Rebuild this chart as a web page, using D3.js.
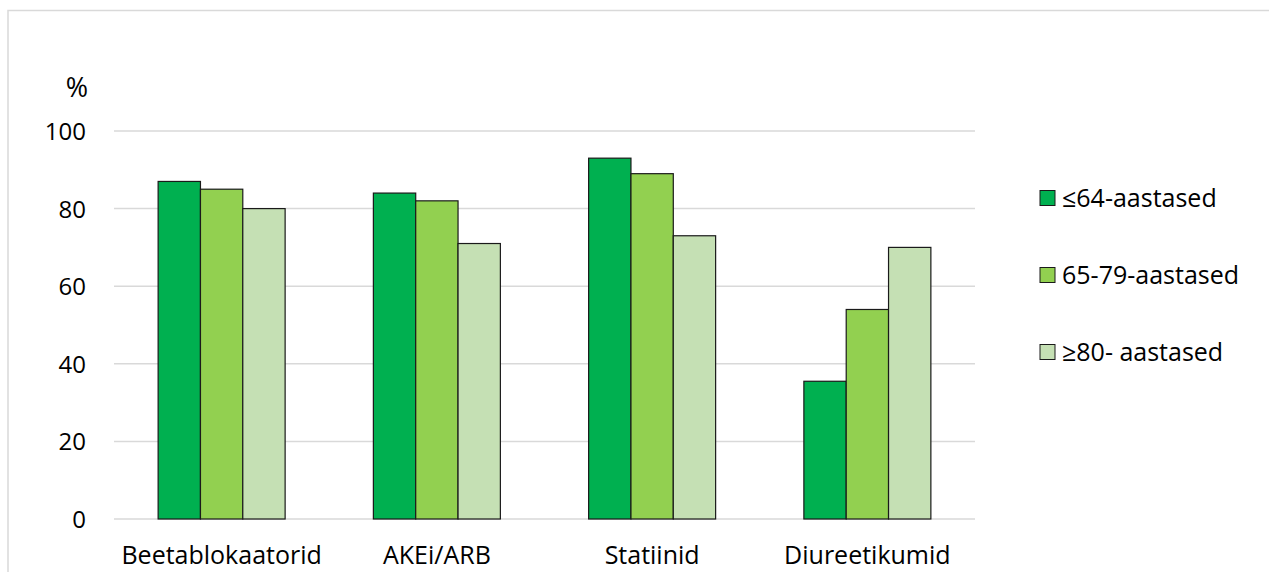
<!DOCTYPE html>
<html><head><meta charset="utf-8">
<script src="https://cdn.jsdelivr.net/npm/d3@7"></script>
<style>body{margin:0;background:#fff;} svg{display:block;} text{font-family:"Open Sans",sans-serif;fill:#000;}</style>
</head><body>
<svg id="c" width="1269" height="572"></svg>
<script>
const categories = ["Beetablokaatorid", "AKEi/ARB", "Statiinid", "Diureetikumid"];
const seriesNames = ["≤64-aastased", "65-79-aastased", "≥80- aastased"];
const s1 = [87, 84, 93, 35.5];
const s2 = [85, 82, 89, 54];
const s3 = [80, 71, 73, 70];
const yTicks = [0, 20, 40, 60, 80, 100];
const colors = ["#00B050", "#92D050", "#C5E0B4"];
const series = [s1, s2, s3];

const svg = d3.select("#c");
// outer frame
svg.append("rect").attr("x", 8).attr("y", 10.5).attr("width", 1300).attr("height", 600)
  .attr("fill", "none").attr("stroke", "#d9d9d9").attr("stroke-width", 1.5);

const pLeft = 114, pRight = 975, pTop = 131, pBottom = 519;
const x = d3.scaleBand().domain(categories).range([pLeft, pRight]).paddingInner(0.41).paddingOuter(0.205);
const xs = d3.scaleBand().domain(d3.range(3)).range([0, x.bandwidth()]);
const y = d3.scaleLinear().domain([0, 100]).range([pBottom, pTop]);

// gridlines
svg.append("g").selectAll("line").data(yTicks).join("line")
  .attr("x1", pLeft).attr("x2", pRight).attr("y1", d => y(d)).attr("y2", d => y(d))
  .attr("stroke", "#d9d9d9").attr("stroke-width", 1.5);

// y axis labels
const ya = svg.append("g").attr("transform", `translate(86,0)`)
  .call(d3.axisLeft(y).tickValues(yTicks).tickSize(0).tickPadding(0));
ya.select(".domain").remove();
ya.selectAll("text").style("font-size", "24px").style("font-family", '"Open Sans",sans-serif').attr("dy", "0.35em");

svg.append("text").attr("x", 77).attr("y", 97).attr("text-anchor", "middle").style("font-size", "27px").text("%");

// bars
series.forEach((vals, si) => {
  svg.append("g").selectAll("rect").data(vals).join("rect")
    .attr("x", (d, i) => x(categories[i]) + xs(si))
    .attr("width", xs.bandwidth())
    .attr("y", d => y(d))
    .attr("height", d => y(0) - y(d))
    .attr("fill", colors[si])
    .attr("stroke", "#1a1a1a").attr("stroke-width", 1.2);
});

// x axis labels
const xa = svg.append("g").attr("transform", `translate(0,${pBottom})`)
  .call(d3.axisBottom(x).tickSize(0).tickPadding(0));
xa.select(".domain").remove();
xa.selectAll("text").style("font-size", "25px").style("font-family", '"Open Sans",sans-serif').attr("dy", null).attr("y", 45);

// legend
const lg = svg.append("g");
seriesNames.forEach((n, i) => {
  const cy = 198 + i * 77;
  lg.append("rect").attr("x", 1040).attr("y", cy - 7.5).attr("width", 15).attr("height", 15)
    .attr("fill", colors[i]).attr("stroke", "#1a1a1a").attr("stroke-width", 1);
  lg.append("text").attr("x", 1062).attr("y", cy).attr("dy", "0.35em").style("font-size", "25px").text(n);
});
</script>
</body></html>
